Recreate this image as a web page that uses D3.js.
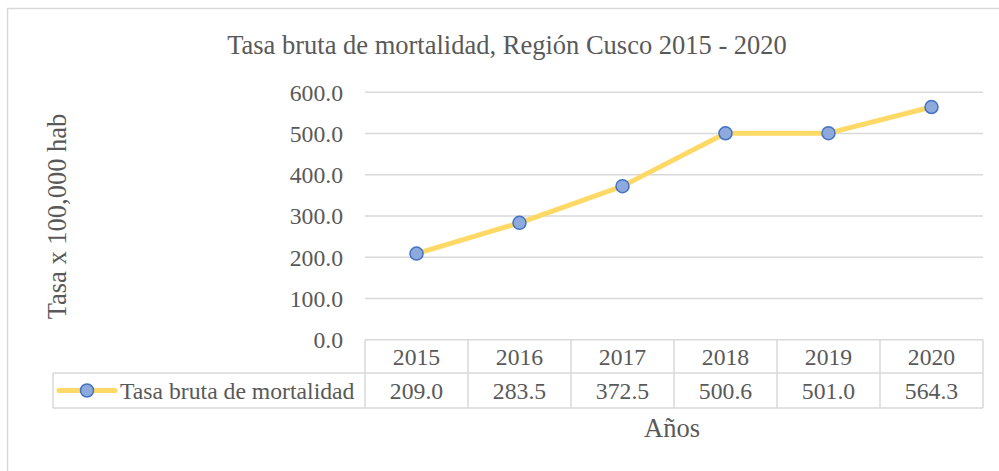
<!DOCTYPE html>
<html><head><meta charset="utf-8">
<script src="https://cdn.jsdelivr.net/npm/d3@7"></script>
<style>
body{margin:0;background:#fff}
text{font-family:"Liberation Serif","Tinos","Times New Roman","DejaVu Serif",serif;fill:#595959}
</style></head>
<body><svg id="c" width="999" height="471"></svg>
<script>
const years = ["2015","2016","2017","2018","2019","2020"];
const values = [209.0, 283.5, 372.5, 500.6, 501.0, 564.3];
const yTicks = [0,100,200,300,400,500,600];
const seriesName = "Tasa bruta de mortalidad";
const chartTitle = "Tasa bruta de mortalidad, Región Cusco 2015 - 2020";
const yTitle = "Tasa x 100,000 hab";
const xTitle = "Años";

const svg = d3.select("#c");
const grid = "#d9d9d9";
const fs = 23.7;     // tick labels, table, legend
const fsT = 26.5;    // chart + axis titles

// outer border
svg.append("rect").attr("x",7.5).attr("y",8.5).attr("width",1100).attr("height",1000)
  .attr("fill","none").attr("stroke",grid).attr("stroke-width",1.5);

const x = d3.scaleBand().domain(years).range([365,983]);
const y = d3.scaleLinear().domain([0,600]).range([339.8,92.3]);

// gridlines
svg.append("g").selectAll("line").data(yTicks.filter(d=>d>0)).join("line")
  .attr("x1",365).attr("x2",983).attr("y1",d=>y(d)).attr("y2",d=>y(d))
  .attr("stroke",grid).attr("stroke-width",1.5);

// y tick labels
svg.append("g").selectAll("text").data(yTicks).join("text")
  .attr("x",343).attr("y",d=>y(d)).attr("dy","0.35em").attr("text-anchor","end")
  .attr("font-size",fs).text(d=>d3.format(".1f")(d));

// table
const rowTop=y(0), rowMid=373, rowBot=408, legLeft=53;
const t = svg.append("g").attr("stroke",grid).attr("stroke-width",1.5);
t.append("line").attr("x1",365).attr("x2",983).attr("y1",rowTop).attr("y2",rowTop);
t.append("line").attr("x1",legLeft).attr("x2",983).attr("y1",rowMid).attr("y2",rowMid);
t.append("line").attr("x1",legLeft).attr("x2",983).attr("y1",rowBot).attr("y2",rowBot);
t.append("line").attr("x1",legLeft).attr("x2",legLeft).attr("y1",rowMid).attr("y2",rowBot);
const bounds = years.map(d=>x(d)).concat([x.range()[1]]);
t.selectAll(".v").data(bounds).join("line").attr("class","v")
  .attr("x1",d=>d).attr("x2",d=>d).attr("y1",rowTop).attr("y2",rowBot);

svg.append("g").selectAll("text").data(years).join("text")
  .attr("x",d=>x(d)+x.bandwidth()/2).attr("y",(rowTop+rowMid)/2).attr("dy","0.35em")
  .attr("text-anchor","middle").attr("font-size",fs).text(d=>d);
svg.append("g").selectAll("text").data(values).join("text")
  .attr("x",(d,i)=>x(years[i])+x.bandwidth()/2).attr("y",(rowMid+rowBot)/2).attr("dy","0.35em")
  .attr("text-anchor","middle").attr("font-size",fs).text(d=>d3.format(".1f")(d));

// legend
const ly=(rowMid+rowBot)/2;
svg.append("line").attr("x1",59).attr("x2",115).attr("y1",ly).attr("y2",ly)
  .attr("stroke","#FFD966").attr("stroke-width",5).attr("stroke-linecap","round");
svg.append("circle").attr("cx",87).attr("cy",ly).attr("r",6.5)
  .attr("fill","#8EA9DB").attr("stroke","#4472C4").attr("stroke-width",1.5);
svg.append("text").attr("x",120).attr("y",ly).attr("dy","0.35em").attr("font-size",fs).text(seriesName);

// line
const line = d3.line().x((d,i)=>x(years[i])+x.bandwidth()/2).y(d=>y(d));
svg.append("path").datum(values).attr("d",line).attr("fill","none")
  .attr("stroke","#FFD966").attr("stroke-width",5).attr("stroke-linecap","round").attr("stroke-linejoin","round");
svg.append("g").selectAll("circle").data(values).join("circle")
  .attr("cx",(d,i)=>x(years[i])+x.bandwidth()/2).attr("cy",d=>y(d)).attr("r",6.5)
  .attr("fill","#8EA9DB").attr("stroke","#4472C4").attr("stroke-width",1.5);

// titles
svg.append("text").attr("x",507).attr("y",53.5).attr("text-anchor","middle")
  .attr("font-size",fsT).text(chartTitle);
svg.append("text").attr("transform","translate(66,216.5) rotate(-90)")
  .attr("text-anchor","middle").attr("font-size",fsT).text(yTitle);
svg.append("text").attr("x",672).attr("y",437).attr("text-anchor","middle")
  .attr("font-size",fsT).text(xTitle);
</script></body></html>
